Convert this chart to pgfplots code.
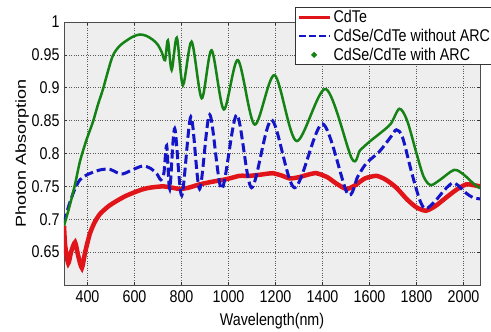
\documentclass[border=0pt]{standalone}
\usepackage{pgfplots}
\pgfplotsset{compat=1.18}
\usepackage{fontspec}
\setmainfont{Liberation Sans}[FakeStretch=0.84]
\newfontfamily\ylabfont{Liberation Sans}
\definecolor{cred}{RGB}{225,20,25}
\definecolor{cblue}{RGB}{20,20,200}
\definecolor{cgreen}{RGB}{20,130,20}
\begin{document}
\begin{tikzpicture}
\begin{axis}[
  name=ax,
  scale only axis,
  width=416pt, height=263pt,
  xmin=300, xmax=2070, ymin=0.6, ymax=1,
  xtick={400,600,800,1000,1200,1400,1600,1800,2000},
  ytick={0.65,0.7,0.75,0.8,0.85,0.9,0.95,1},
  /pgf/number format/1000 sep={},
  /pgf/number format/assume math mode=true,
  tick label style={font=\fontsize{17}{20}\selectfont},
  xticklabel style={yshift=-2pt},
  yticklabel style={xshift=-1pt},
  tick align=inside,
  major tick length=3pt,
  tick style={black!80, line width=0.6pt},
  axis line style={black!70, line width=0.8pt},
  axis background/.style={fill=gray!13},
  grid=major,
  major grid style={black!65, dotted, line width=0.7pt},
  xlabel={Wavelength(nm)},
  xlabel style={font=\fontsize{17}{20}\selectfont, yshift=-4pt},
  ylabel={\scalebox{1}[0.8]{\ylabfont\fontsize{18}{20}\selectfont Photon Absorption}},
  ylabel style={yshift=-4pt},
  legend cell align=left,
  legend style={at={(0.556,1.057)}, anchor=north west, font=\fontsize{17}{20}\selectfont,
    draw=black!80, line width=0.6pt, fill=white, inner xsep=2pt, inner ysep=1pt,
    row sep=1pt, /tikz/every even column/.append style={column sep=0pt}},
]
\addplot[cred, line width=4.5pt, smooth, tension=0.4, legend image code/.code={\draw[cred, line width=3pt] (0pt,0pt) -- (31pt,0pt);}] coordinates {
(300,0.690)(305,0.660)(318,0.633)(330,0.650)(347,0.665)(360,0.645)(376,0.626)(390,0.650)
(410,0.678)(430,0.695)(453,0.708)(490,0.720)(525,0.728)(560,0.735)(593,0.740)(630,0.745)
(665,0.748)(720,0.750)(760,0.748)(793,0.746)(830,0.748)(877,0.753)(930,0.757)(992,0.761)
(1047,0.766)(1090,0.766)(1140,0.768)(1188,0.770)(1230,0.766)(1260,0.762)(1300,0.764)
(1340,0.768)(1374,0.770)(1420,0.764)(1460,0.754)(1502,0.746)(1540,0.752)(1580,0.762)
(1629,0.766)(1670,0.760)(1714,0.748)(1760,0.730)(1800,0.718)(1840,0.713)(1880,0.720)
(1926,0.733)(1970,0.745)(2011,0.753)(2040,0.752)(2070,0.750)
};
\addlegendentry{CdTe}
\addplot[cblue, line width=3pt, dash pattern=on 9pt off 4pt, smooth, tension=0.5, legend image code/.code={\draw[cblue, line width=2.5pt, dash pattern=on 7pt off 3pt] (0pt,0pt) -- (31pt,0pt);}] coordinates {
(300,0.695)(320,0.720)(345,0.745)(368,0.760)(400,0.768)(453,0.775)(495,0.776)(525,0.771)
(551,0.769)(590,0.775)(635,0.781)(670,0.777)(695,0.769)(712,0.760)(725,0.770)(737,0.812)
(750,0.746)(771,0.838)(801,0.736)(840,0.856)(877,0.746)(920,0.859)(971,0.746)(1035,0.859)
(1098,0.748)(1183,0.851)(1281,0.748)(1400,0.845)(1506,0.739)(1550,0.765)(1586,0.785)
(1642,0.803)(1690,0.825)(1714,0.836)(1740,0.825)(1780,0.770)(1815,0.728)(1840,0.716)
(1880,0.728)(1920,0.745)(1952,0.755)(1975,0.752)(2010,0.740)(2040,0.733)(2070,0.731)
};
\addlegendentry{CdSe/CdTe without ARC}
\addplot[cgreen, line width=2.5pt, smooth, tension=0.5, legend image code/.code={\fill[cgreen] (15pt,0pt) circle (1.3pt);}] coordinates {
(300,0.690)(320,0.715)(345,0.750)(368,0.788)(395,0.820)(423,0.848)(445,0.875)(466,0.898)
(487,0.925)(508,0.949)(535,0.963)(567,0.972)(595,0.978)(623,0.981)(650,0.979)(678,0.973)
(700,0.965)(716,0.954)(730,0.942)(742,0.972)(758,0.927)(780,0.976)(806,0.904)(843,0.970)
(886,0.884)(928,0.957)(980,0.867)(1040,0.942)(1111,0.844)(1196,0.919)(1289,0.819)
(1414,0.898)(1525,0.792)(1560,0.805)(1600,0.818)(1642,0.830)(1690,0.845)(1727,0.868)
(1760,0.850)(1800,0.800)(1830,0.765)(1860,0.752)(1900,0.760)(1960,0.775)(2000,0.768)
(2040,0.755)(2070,0.747)
};
\addlegendentry{CdSe/CdTe with ARC}
\end{axis}
\pgfresetboundingbox
\path[use as bounding box] ([shift={(-64pt,-46pt)}]ax.south west) rectangle ([shift={(11pt,22pt)}]ax.north east);
\end{tikzpicture}
\end{document}
